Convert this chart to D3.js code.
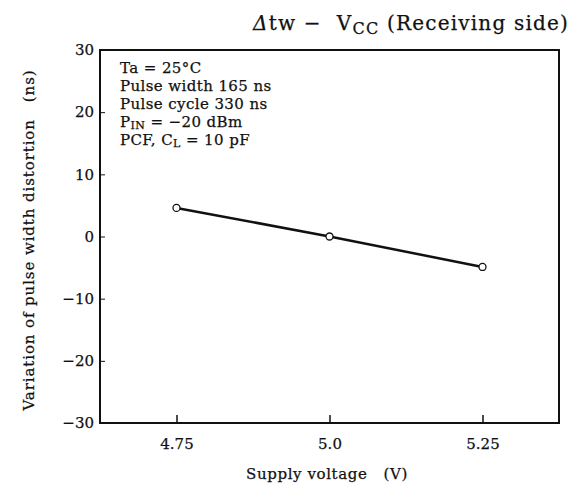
<!DOCTYPE html>
<html>
<head>
  <meta charset="utf-8">
  <style type="text/css">
    body { margin: 0; background: #fff; }
    text { font-family: "DejaVu Serif", "Liberation Serif", serif; fill: #111; stroke: #111; stroke-width: 0.25; }
  </style>
  <script src="https://d3js.org/d3.v7.min.js"></script>
</head>
<body>
  <div id="chart"></div>
  <script type="text/javascript">
    // supply voltage (V) vs pulse width distortion (ns)
    var voltages = [4.75, 5.0, 5.25];
    var distortion = [4.6, 0, -4.9];
    var xTicks = [4.75, 5.0, 5.25];
    var xTickLabels = ["4.75", "5.0", "5.25"];
    var yTicks = [30, 20, 10, 0, -10, -20, -30];
    var notes = ["Ta = 25°C", "Pulse width 165 ns", "Pulse cycle 330 ns"];

    function draw() {
      "use strict";
      var width = 581, height = 499;
      var plotL = 100, plotR = 559, plotT = 50, plotB = 423;

      var svg = d3.select("#chart")
        .append("svg")
          .attr("width", width)
          .attr("height", height);

      var x = d3.scaleLinear().domain([4.625, 5.375]).range([plotL, plotR]);
      var y = d3.scaleLinear().domain([-30, 30]).range([plotB, plotT]);

      // frame
      svg.append("rect")
        .attr("x", plotL).attr("y", plotT)
        .attr("width", plotR - plotL).attr("height", plotB - plotT)
        .attr("fill", "none").attr("stroke", "#111").attr("stroke-width", 2);

      // x axis, ticks pointing inward
      var xAxis = d3.axisTop(x).tickValues(xTicks)
        .tickFormat(function(d, i) { return xTickLabels[i]; })
        .tickSize(8).tickSizeOuter(0);
      var gx = svg.append("g").attr("transform", "translate(0," + plotB + ")").call(xAxis);
      gx.select(".domain").remove();
      gx.selectAll("line").attr("stroke", "#111").attr("stroke-width", 1.5);
      gx.selectAll("text")
        .attr("y", 26).attr("dy", 0).attr("fill", "#111")
        .style("font-size", "15px").style("font-family", "DejaVu Serif");

      // y axis, ticks inward
      var yAxis = d3.axisRight(y).tickValues(yTicks)
        .tickFormat(function(d) { return d < 0 ? "\u2212" + Math.abs(d) : d; })
        .tickSize(5).tickSizeOuter(0);
      var gy = svg.append("g").attr("transform", "translate(" + plotL + ",0)").call(yAxis);
      gy.select(".domain").remove();
      gy.selectAll("line").attr("stroke", "#111").attr("stroke-width", 1);
      gy.selectAll("text")
        .attr("x", -6).attr("text-anchor", "end").attr("fill", "#111")
        .style("font-size", "15px").style("font-family", "DejaVu Serif");

      // line + hollow markers
      var pts = voltages.map(function(v, i) { return [v, distortion[i]]; });
      svg.append("path")
        .datum(pts)
        .attr("fill", "none").attr("stroke", "#111").attr("stroke-width", 2.5)
        .attr("d", d3.line().x(function(d) { return x(d[0]); }).y(function(d) { return y(d[1]); }));
      svg.selectAll("circle.pt").data(pts).enter().append("circle")
        .attr("class", "pt")
        .attr("cx", function(d) { return x(d[0]); })
        .attr("cy", function(d) { return y(d[1]); })
        .attr("r", 3.5)
        .attr("fill", "#fff").attr("stroke", "#111").attr("stroke-width", 1.3);

      // title
      var title = svg.append("text").attr("x", 253).attr("y", 30)
        .style("font-size", "20px").style("letter-spacing", "1.2px");
      title.append("tspan").style("font-style", "italic").text("\u0394");
      title.append("tspan").text("tw \u2212\u00a0\u00a0V");
      title.append("tspan").attr("dy", 4).style("font-size", "16px").text("CC");
      title.append("tspan").attr("dy", -4).text(" (Receiving\u00a0side)");

      // condition notes
      var ny = [73, 91, 109, 127, 145];
      var noteStyle = function(t) {
        t.style("font-size", "15px").style("letter-spacing", "0.4px");
      };
      notes.forEach(function(s, i) {
        svg.append("text").attr("x", 120).attr("y", ny[i]).call(noteStyle).text(s);
      });
      var p = svg.append("text").attr("x", 120).attr("y", ny[3]).call(noteStyle);
      p.append("tspan").text("P");
      p.append("tspan").attr("dy", 2).style("font-size", "11px").text("IN");
      p.append("tspan").attr("dy", -2).text(" = \u221220 dBm");
      var c = svg.append("text").attr("x", 120).attr("y", ny[4]).call(noteStyle);
      c.append("tspan").text("PCF, C");
      c.append("tspan").attr("dy", 2).style("font-size", "11px").text("L");
      c.append("tspan").attr("dy", -2).text(" = 10 pF");

      // axis titles
      svg.append("text")
        .attr("x", 327).attr("y", 479).attr("text-anchor", "middle")
        .style("font-size", "15px").style("letter-spacing", "0.6px")
        .text("Supply voltage\u00a0\u00a0\u00a0(V)");
      svg.append("text")
        .attr("transform", "translate(34,240) rotate(-90)")
        .attr("text-anchor", "middle")
        .style("font-size", "15px").style("letter-spacing", "0.9px")
        .text("Variation of pulse width distortion\u00a0\u00a0\u00a0(ns)");
    }
    draw();
  </script>
</body>
</html>
